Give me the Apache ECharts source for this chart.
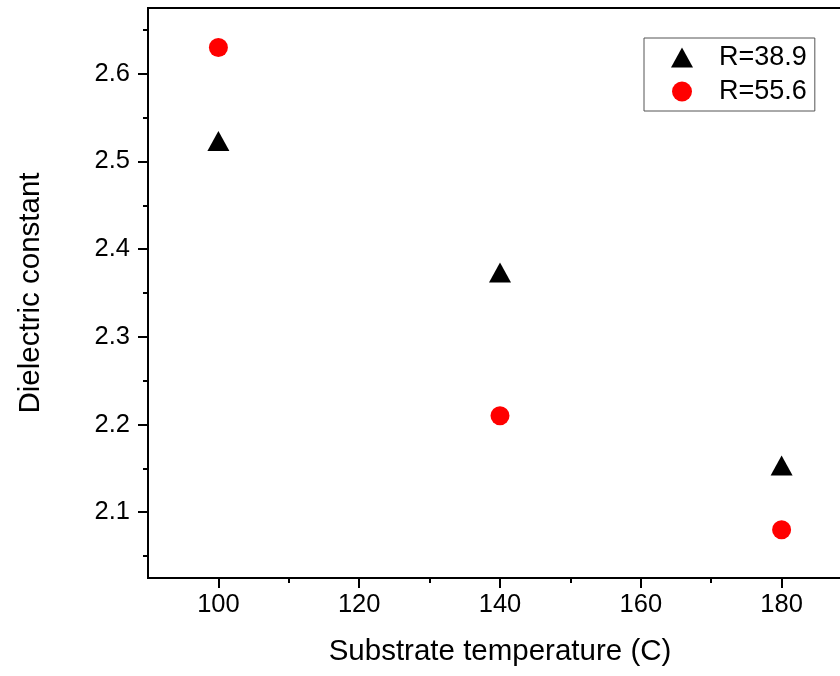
<!DOCTYPE html>
<html>
<head>
<meta charset="utf-8">
<script src="https://cdn.jsdelivr.net/npm/echarts@6/dist/echarts.min.js"></script>
<style>
html,body{margin:0;padding:0;background:#fff;}
#chart{width:840px;height:676px;}
</style>
</head>
<body>
<div id="chart"></div>
<script>
const temps = [100, 140, 180];
const seriesNames = ['R=38.9', 'R=55.6'];
const valuesR389 = [2.52, 2.37, 2.15];
const valuesR556 = [2.63, 2.21, 2.08];
const xMajorTicks = [100, 120, 140, 160, 180];
const xMinorTicks = [110, 130, 150, 170];
const yMajorTicks = [2.1, 2.2, 2.3, 2.4, 2.5, 2.6];
const yMinorTicks = [2.05, 2.15, 2.25, 2.35, 2.45, 2.55, 2.65];

const FONT = '"Liberation Sans", Arial, sans-serif';
const chart = echarts.init(document.getElementById('chart'), null, {renderer: 'canvas'});

const xRange = {min: 90, max: 190};
const yRange = {min: 2.025, max: 2.675};

const option = {
  backgroundColor: '#fff',
  animation: false,
  grid: {left: 148, top: 8, width: 704, height: 570, outerBoundsMode: 'none', containLabel: false,
    show: true, borderColor: '#000', borderWidth: 2, backgroundColor: 'transparent'},
  legend: {
    orient: 'vertical',
    left: 644, top: 38,
    padding: [6, 8, 6, 27],
    itemGap: 7,
    itemWidth: 22, itemHeight: 20,
    borderColor: '#555', borderWidth: 1,
    backgroundColor: '#fff',
    textStyle: {fontFamily: FONT, fontSize: 27, color: '#000', padding: [0, 0, 0, 21]},
    data: seriesNames
  },
  xAxis: [{
    type: 'value', min: xRange.min, max: xRange.max,
    position: 'bottom',
    name: 'Substrate temperature (C)', nameLocation: 'middle', nameGap: 59,
    nameTextStyle: {fontFamily: FONT, fontSize: 29.5, color: '#000'},
    axisLine: {show: true, lineStyle: {color: '#000', width: 2}},
    axisTick: {show: true, inside: false, length: 10, lineStyle: {color: '#000', width: 2}, customValues: xMajorTicks},
    axisLabel: {show: true, margin: 14, fontFamily: FONT, fontSize: 25.5, color: '#000', customValues: xMajorTicks},
    splitLine: {show: false}
  }, {
    type: 'value', min: xRange.min, max: xRange.max,
    position: 'bottom',
    axisLine: {show: false},
    axisTick: {show: true, inside: false, length: 5, lineStyle: {color: '#000', width: 2}, customValues: xMinorTicks},
    axisLabel: {show: false},
    splitLine: {show: false}
  }],
  yAxis: [{
    type: 'value', min: yRange.min, max: yRange.max,
    position: 'left',
    name: 'Dielectric constant', nameLocation: 'middle', nameGap: 102,
    nameTextStyle: {fontFamily: FONT, fontSize: 29.5, color: '#000'},
    axisLine: {show: true, lineStyle: {color: '#000', width: 2}},
    axisTick: {show: true, inside: false, length: 10, lineStyle: {color: '#000', width: 2}, customValues: yMajorTicks},
    axisLabel: {show: true, margin: 18, fontFamily: FONT, fontSize: 25.5, color: '#000', customValues: yMajorTicks,
      formatter: v => v.toFixed(1)},
    splitLine: {show: false}
  }, {
    type: 'value', min: yRange.min, max: yRange.max,
    position: 'left',
    axisLine: {show: false},
    axisTick: {show: true, inside: false, length: 5, lineStyle: {color: '#000', width: 2}, customValues: yMinorTicks},
    axisLabel: {show: false},
    splitLine: {show: false}
  }],
  series: [{
    name: seriesNames[0], type: 'scatter',
    xAxisIndex: 0, yAxisIndex: 0,
    symbol: 'triangle', symbolSize: [22, 20], symbolOffset: [0, -3],
    itemStyle: {color: '#000', opacity: 1},
    data: temps.map((t, i) => [t, valuesR389[i]])
  }, {
    name: seriesNames[1], type: 'scatter',
    xAxisIndex: 0, yAxisIndex: 0,
    symbol: 'circle', symbolSize: 19,
    itemStyle: {color: '#ff0000', opacity: 1},
    data: temps.map((t, i) => [t, valuesR556[i]])
  }]
};
chart.setOption(option);
</script>
</body>
</html>
